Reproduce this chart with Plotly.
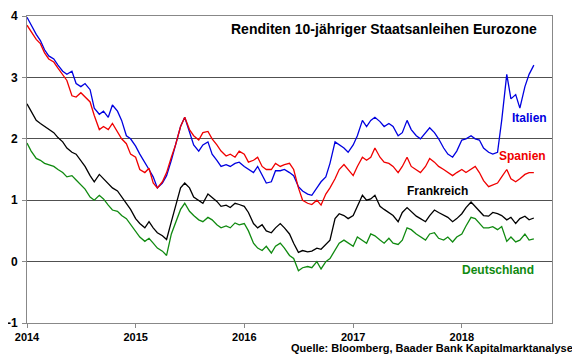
import pandas as pd
import plotly.graph_objects as go

# semi-monthly observation dates (1st and 15th), Jan 2014 - Aug 2018
dates = []
for y in range(2014, 2019):
    for m in range(1, 13):
        for d in (1, 15):
            if y == 2018 and m > 8:
                continue
            dates.append(f"{y}-{m:02d}-{d:02d}")
dates.append("2018-08-31")

italien = [3.98, 3.85, 3.70, 3.60, 3.45, 3.35, 3.30, 3.20, 3.10, 3.05, 3.10, 2.90, 2.85, 2.90, 2.80, 2.50,
           2.40, 2.45, 2.35, 2.55, 2.45, 2.30, 2.05, 2.00, 1.88, 1.75, 1.60, 1.50, 1.38, 1.20, 1.28, 1.40,
           1.65, 1.88, 2.20, 2.35, 2.10, 1.90, 1.80, 1.90, 1.95, 1.75, 1.65, 1.55, 1.58, 1.55, 1.60, 1.62,
           1.55, 1.50, 1.45, 1.55, 1.40, 1.28, 1.30, 1.48, 1.48, 1.50, 1.45, 1.40, 1.22, 1.15, 1.10, 1.08,
           1.20, 1.30, 1.38, 1.60, 1.95, 1.90, 1.85, 1.78, 1.90, 2.05, 2.30, 2.20, 2.30, 2.35, 2.28, 2.20,
           2.25, 2.20, 2.05, 2.10, 2.30, 2.15, 2.05, 2.00, 2.10, 2.18, 2.10, 2.00, 1.85, 1.75, 1.70, 1.80,
           1.98, 2.00, 2.05, 2.00, 1.98, 1.85, 1.78, 1.75, 1.78, 2.30, 3.05, 2.65, 2.72, 2.50, 2.85, 3.05,
           3.20]
spanien = [3.85, 3.75, 3.62, 3.55, 3.40, 3.30, 3.25, 3.15, 3.05, 2.95, 2.70, 2.68, 2.75, 2.68, 2.60, 2.38,
           2.15, 2.20, 2.15, 2.25, 2.10, 2.00, 1.92, 1.75, 1.70, 1.50, 1.45, 1.52, 1.28, 1.20, 1.30, 1.45,
           1.70, 1.90, 2.20, 2.35, 2.15, 2.05, 1.98, 2.10, 2.12, 2.00, 1.90, 1.80, 1.72, 1.75, 1.70, 1.80,
           1.75, 1.62, 1.65, 1.70, 1.55, 1.50, 1.50, 1.60, 1.55, 1.58, 1.60, 1.50, 1.20, 1.00, 0.95, 0.93,
           1.00, 0.92, 1.10, 1.20, 1.35, 1.50, 1.58, 1.50, 1.40, 1.55, 1.70, 1.65, 1.70, 1.85, 1.70, 1.62,
           1.60, 1.55, 1.45, 1.55, 1.70, 1.55, 1.50, 1.45, 1.55, 1.68, 1.62, 1.55, 1.50, 1.45, 1.40, 1.45,
           1.50, 1.45, 1.50, 1.55, 1.45, 1.32, 1.22, 1.25, 1.28, 1.38, 1.50, 1.35, 1.30, 1.35, 1.42, 1.45,
           1.45]
frankreich = [2.57, 2.45, 2.30, 2.25, 2.20, 2.15, 2.10, 2.02, 1.95, 1.85, 1.78, 1.75, 1.65, 1.55, 1.40, 1.30,
              1.42, 1.35, 1.28, 1.20, 1.15, 1.05, 0.95, 0.85, 0.70, 0.62, 0.55, 0.65, 0.55, 0.47, 0.42, 0.36,
              0.65, 0.90, 1.20, 1.28, 1.20, 1.05, 1.00, 0.95, 1.10, 1.05, 0.98, 0.90, 0.92, 0.88, 0.95, 0.93,
              0.90, 0.80, 0.62, 0.55, 0.60, 0.50, 0.47, 0.55, 0.62, 0.55, 0.45, 0.30, 0.15, 0.18, 0.16, 0.17,
              0.22, 0.20, 0.28, 0.35, 0.70, 0.78, 0.75, 0.70, 0.75, 0.90, 1.08, 1.00, 1.02, 1.08, 0.90, 0.85,
              0.80, 0.75, 0.65, 0.80, 0.88, 0.82, 0.74, 0.70, 0.65, 0.75, 0.84, 0.80, 0.75, 0.72, 0.65, 0.70,
              0.78, 0.88, 0.97, 0.90, 0.82, 0.75, 0.74, 0.80, 0.78, 0.75, 0.68, 0.72, 0.62, 0.70, 0.74, 0.68,
              0.71]
deutschland = [1.93, 1.80, 1.68, 1.65, 1.60, 1.58, 1.55, 1.50, 1.45, 1.38, 1.40, 1.33, 1.25, 1.18, 1.05, 1.00,
               1.08, 1.02, 0.92, 0.84, 0.82, 0.75, 0.70, 0.60, 0.50, 0.40, 0.33, 0.38, 0.30, 0.22, 0.17, 0.10,
               0.45, 0.63, 0.85, 0.95, 0.82, 0.75, 0.68, 0.65, 0.72, 0.68, 0.60, 0.55, 0.58, 0.55, 0.63, 0.60,
               0.62, 0.50, 0.30, 0.22, 0.18, 0.25, 0.14, 0.25, 0.30, 0.22, 0.10, 0.05, -0.15, -0.10, -0.08, -0.10,
               0.00, -0.12, 0.00, 0.05, 0.20, 0.30, 0.35, 0.30, 0.25, 0.40, 0.35, 0.30, 0.45, 0.42, 0.35, 0.30,
               0.38, 0.30, 0.28, 0.35, 0.55, 0.52, 0.45, 0.40, 0.35, 0.45, 0.47, 0.38, 0.35, 0.40, 0.32, 0.40,
               0.45, 0.58, 0.72, 0.70, 0.62, 0.55, 0.55, 0.57, 0.52, 0.57, 0.33, 0.40, 0.32, 0.35, 0.45, 0.35,
               0.37]

year_ticks = ["2014-01-01", "2015-01-01", "2016-01-01", "2017-01-01", "2018-01-01"]
year_labels = ["2014", "2015", "2016", "2017", "2018"]
y_ticks = [-1, 0, 1, 2, 3, 4]
y_labels = ["-1", "0", "1", "2", "3", "4"]

series = [
    ("Italien", italien, "#0000E0"),
    ("Spanien", spanien, "#F00000"),
    ("Frankreich", frankreich, "#000000"),
    ("Deutschland", deutschland, "#108A10"),
]

FONT = "Liberation Sans, Arial, sans-serif"
fig = go.Figure()
for name, vals, col in series:
    fig.add_trace(go.Scatter(x=pd.to_datetime(dates), y=vals, mode="lines", name=name,
                             line=dict(color=col, width=1.3), showlegend=False))

labels = [
    ("Italien", "2018-10-20", 2.34, "#0000E0", "right"),
    ("Spanien", "2018-10-18", 1.72, "#F00000", "right"),
    ("Frankreich", "2017-10-12", 1.15, "#000000", "center"),
    ("Deutschland", "2018-09-06", -0.14, "#108A10", "right"),
]
for txt, x, y, col, anc in labels:
    fig.add_annotation(x=x, y=y, text=f"<b>{txt}</b>", showarrow=False,
                       xanchor=anc, yanchor="middle",
                       font=dict(family=FONT, size=12, color=col))

fig.add_annotation(x=0.975, y=0.958, xref="paper", yref="paper", xanchor="right", yanchor="middle",
                   text="<b>Renditen 10-jähriger Staatsanleihen Eurozone</b>", showarrow=False,
                   font=dict(family=FONT, size=14, color="black"))
fig.add_annotation(x=1.044, y=-0.081, xref="paper", yref="paper", xanchor="right", yanchor="middle",
                   text="<b>Quelle: Bloomberg, Baader Bank Kapitalmarktanalyse</b>", showarrow=False,
                   font=dict(family=FONT, size=11, color="black"))

# page body has an 8px margin, so the figure is sized/margined to land on the 580x358 window
fig.update_layout(
    width=572, height=350,
    margin=dict(l=19, t=8, r=28, b=35),
    paper_bgcolor="white", plot_bgcolor="white",
    font=dict(family=FONT, size=11, color="black"),
    xaxis=dict(type="date", range=["2014-01-01", "2018-10-31"], tickvals=year_ticks, ticktext=year_labels,
               showgrid=False, ticks="outside", ticklen=4, tickcolor="#888", showline=True,
               linecolor="#888", linewidth=1, mirror=True, zeroline=False, automargin=False,
               tickfont=dict(family=FONT, size=11, weight="bold")),
    yaxis=dict(range=[-1, 4], tickvals=y_ticks, ticktext=y_labels, showgrid=True, gridcolor="#505050",
               gridwidth=1, ticks="outside", ticklen=4, tickcolor="#888", showline=True, linecolor="#888",
               linewidth=1, mirror=True, zeroline=False, automargin=False, ticklabelstandoff=2,
               tickfont=dict(family=FONT, size=12, weight="bold")),
)

fig.write_html("out.html")
